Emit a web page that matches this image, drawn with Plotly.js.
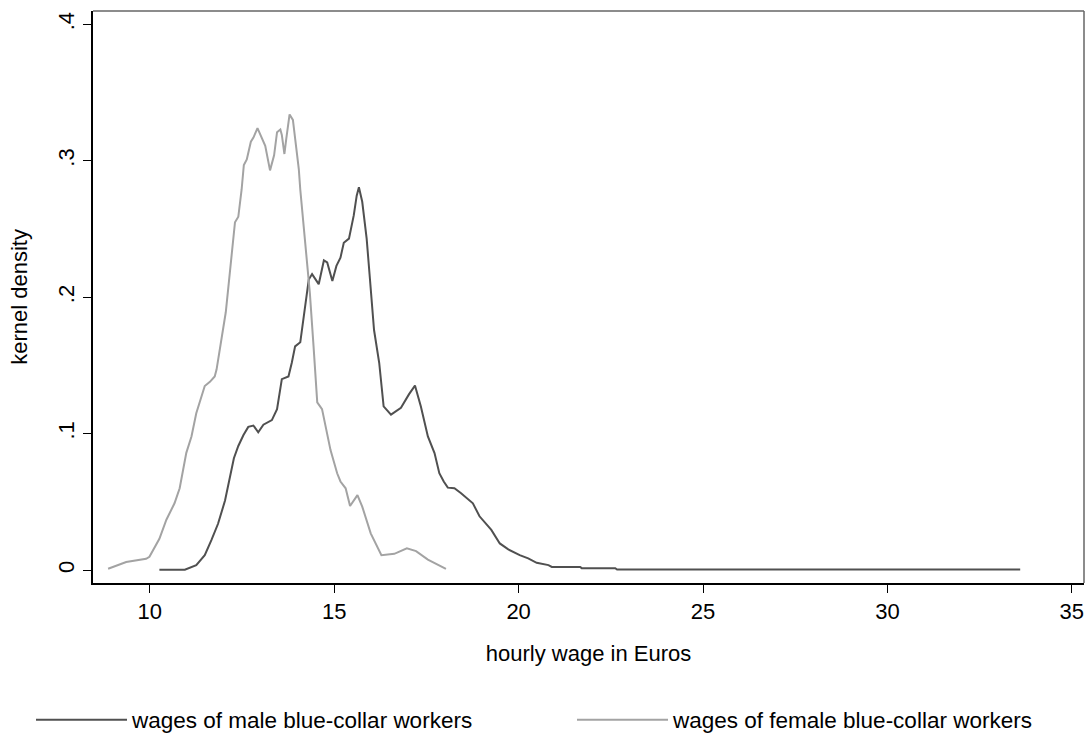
<!DOCTYPE html>
<html>
<head>
<meta charset="utf-8">
<script src="https://cdn.plot.ly/plotly-3.0.1.min.js"></script>
<style>html,body{margin:0;padding:0;background:#fff;}#chart{width:1091px;height:737px;}</style>
</head>
<body>
<div id="chart"></div>
<script>
// Series names
var maleName = "wages of male blue-collar workers";
var femaleName = "wages of female blue-collar workers";

// Male kernel density (hourly wage in Euros, density)
var maleX = [10.26, 10.95, 11.26, 11.49, 11.67, 11.85, 12.04, 12.17, 12.28, 12.40, 12.54, 12.67, 12.81, 12.94, 13.08, 13.31, 13.45, 13.58, 13.76, 13.85, 13.94, 14.08, 14.17, 14.26, 14.31, 14.40, 14.58, 14.72, 14.81, 14.95, 15.06, 15.17, 15.26, 15.40, 15.53, 15.61, 15.67, 15.76, 15.88, 15.97, 16.08, 16.22, 16.34, 16.54, 16.81, 17.03, 17.19, 17.35, 17.54, 17.72, 17.85, 17.97, 18.08, 18.26, 18.44, 18.76, 18.94, 19.26, 19.49, 19.72, 20.03, 20.26, 20.49, 20.81, 20.90, 21.67, 21.71, 22.62, 22.67, 33.60];
var maleY = [0.0003, 0.0003, 0.0037, 0.011, 0.022, 0.034, 0.051, 0.069, 0.082, 0.091, 0.099, 0.105, 0.106, 0.101, 0.1066, 0.110, 0.118, 0.140, 0.142, 0.152, 0.164, 0.167, 0.186, 0.203, 0.213, 0.217, 0.2096, 0.227, 0.2255, 0.212, 0.223, 0.229, 0.240, 0.243, 0.260, 0.2745, 0.2806, 0.270, 0.243, 0.213, 0.176, 0.152, 0.120, 0.114, 0.119, 0.129, 0.1353, 0.120, 0.098, 0.0858, 0.0711, 0.0650, 0.0605, 0.0600, 0.0564, 0.049, 0.0395, 0.0295, 0.0196, 0.0152, 0.011, 0.0086, 0.0054, 0.0037, 0.0024, 0.0024, 0.0015, 0.0015, 0.0005, 0.0005];

// Female kernel density
var femaleX = [8.87, 9.36, 9.90, 9.99, 10.26, 10.45, 10.67, 10.81, 10.99, 11.13, 11.26, 11.36, 11.49, 11.63, 11.76, 11.81, 11.95, 12.06, 12.14, 12.22, 12.31, 12.40, 12.49, 12.55, 12.63, 12.74, 12.81, 12.92, 13.04, 13.13, 13.26, 13.37, 13.45, 13.54, 13.58, 13.65, 13.70, 13.79, 13.88, 13.95, 14.04, 14.08, 14.17, 14.26, 14.34, 14.44, 14.54, 14.67, 14.81, 14.90, 15.08, 15.17, 15.31, 15.43, 15.63, 15.76, 15.99, 16.13, 16.28, 16.63, 16.97, 17.22, 17.54, 18.03];
var femaleY = [0.001, 0.006, 0.0083, 0.0098, 0.023, 0.037, 0.049, 0.060, 0.086, 0.098, 0.115, 0.124, 0.135, 0.138, 0.142, 0.147, 0.172, 0.189, 0.210, 0.233, 0.255, 0.259, 0.279, 0.297, 0.301, 0.314, 0.317, 0.324, 0.317, 0.311, 0.293, 0.304, 0.321, 0.323, 0.319, 0.305, 0.316, 0.334, 0.330, 0.316, 0.294, 0.279, 0.252, 0.226, 0.203, 0.164, 0.123, 0.118, 0.100, 0.088, 0.071, 0.065, 0.060, 0.047, 0.055, 0.0466, 0.027, 0.0196, 0.011, 0.012, 0.016, 0.014, 0.0078, 0.001];

// Axis ticks
var xTicks = [10, 15, 20, 25, 30, 35];
var yTicks = [0, 0.1, 0.2, 0.3, 0.4];
var yTickText = ["0", ".1", ".2", ".3", ".4"];

var FONT = "Liberation Sans, Arial, sans-serif";

var traces = [
  {x: maleX, y: maleY, type: "scatter", mode: "lines", name: maleName, legend: "legend",
   line: {color: "#505050", width: 2}},
  {x: femaleX, y: femaleY, type: "scatter", mode: "lines", name: femaleName, legend: "legend2",
   line: {color: "#a3a3a3", width: 2}}
];

function legendBox(xpx) {
  return {orientation: "h", x: (xpx - 93) / 991, xanchor: "left", y: -0.2396, yanchor: "middle",
          itemwidth: 91, font: {family: FONT, size: 22.5, color: "#000"},
          bgcolor: "rgba(0,0,0,0)", borderwidth: 0};
}

var layout = {
  width: 1091, height: 737,
  margin: {l: 93, r: 7, t: 11, b: 154, autoexpand: false},
  paper_bgcolor: "#ffffff", plot_bgcolor: "#ffffff",
  font: {family: FONT, size: 22, color: "#000000"},
  showlegend: true,
  legend: legendBox(31),
  legend2: legendBox(572),
  xaxis: {
    range: [8.46, 35.33], tickvals: xTicks, ticktext: xTicks.map(String),
    ticks: "outside", ticklen: 8, tickwidth: 1, tickcolor: "#000",
    showline: true, linecolor: "#000", linewidth: 2, mirror: false,
    showgrid: false, zeroline: false, automargin: false,
    tickfont: {family: FONT, size: 22, color: "#000"},
    title: {text: "hourly wage in Euros", standoff: 22, font: {family: FONT, size: 22, color: "#000"}}
  },
  yaxis: {
    range: [-0.0094, 0.4098], tickvals: yTicks, ticktext: yTickText, tickangle: -90,
    ticks: "outside", ticklen: 8, tickwidth: 1, tickcolor: "#000",
    showline: true, linecolor: "#000", linewidth: 2, mirror: false,
    showgrid: false, zeroline: false, automargin: false,
    tickfont: {family: FONT, size: 22, color: "#000"},
    title: {text: "kernel density", standoff: 21, font: {family: FONT, size: 22, color: "#000"}}
  },
  shapes: [
    {type: "line", xref: "paper", yref: "paper", x0: 0, x1: 1, y0: 1, y1: 1, line: {color: "#666666", width: 1.5}},
    {type: "line", xref: "paper", yref: "paper", x0: 1, x1: 1, y0: 0, y1: 1, line: {color: "#666666", width: 1.5}}
  ]
};

Plotly.newPlot("chart", traces, layout, {displayModeBar: false, staticPlot: true});
</script>
</body>
</html>
